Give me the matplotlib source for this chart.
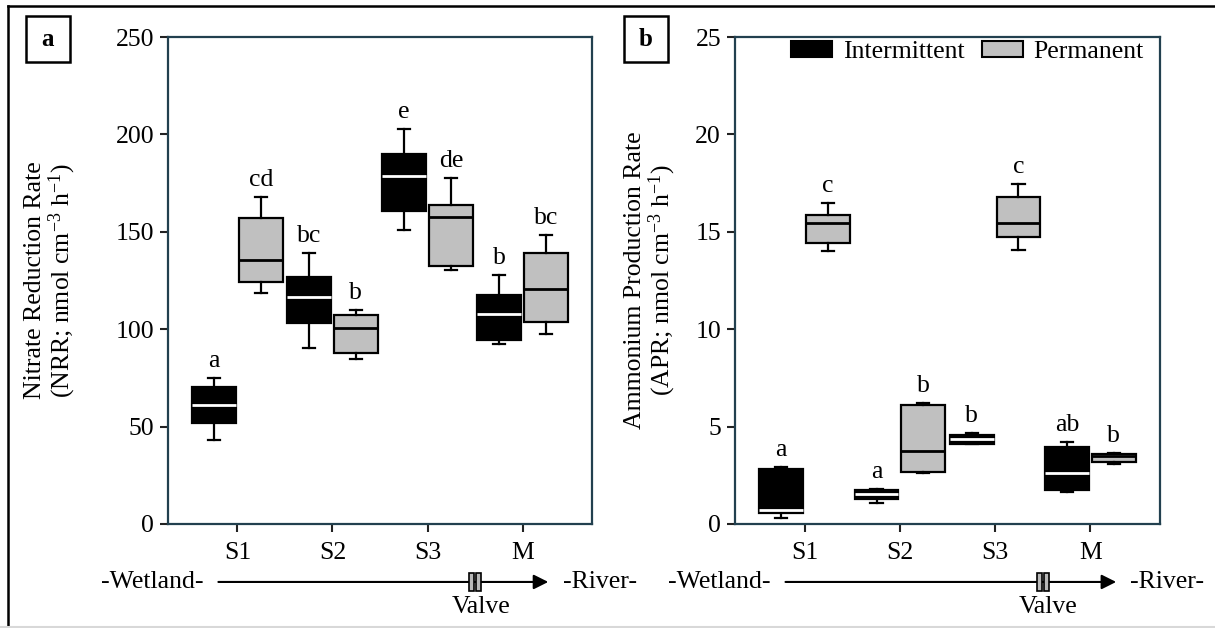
import matplotlib
matplotlib.use("Agg")
import matplotlib.pyplot as plt
import matplotlib.transforms as mtransforms
from matplotlib.patches import Patch, Rectangle
from matplotlib.lines import Line2D

plt.rcParams['font.family'] = ['Liberation Serif', 'DejaVu Serif']
plt.rcParams['mathtext.fontset'] = 'custom'
plt.rcParams['mathtext.rm'] = 'Liberation Serif'
plt.rcParams['mathtext.it'] = 'Liberation Serif:italic'
plt.rcParams['font.size'] = 18.5

sites = ['S1', 'S2', 'S3', 'M']

# [whisker low, Q1, median, Q3, whisker high] per site
nrr_intermittent = [[43.1, 52.0, 61.2, 70.5, 75.1],
                    [90.2, 103.0, 116.7, 127.0, 139.3],
                    [150.9, 160.7, 178.8, 189.8, 202.8],
                    [92.4, 94.5, 107.6, 117.6, 127.8]]
nrr_permanent = [[118.7, 124.4, 135.5, 156.9, 167.7],
                 [84.5, 87.6, 100.4, 107.3, 109.7],
                 [130.4, 132.6, 157.8, 163.8, 177.5],
                 [97.4, 103.5, 120.5, 139.3, 148.2]]
nrr_letters_int = ['a', 'bc', 'e', 'b']
nrr_letters_perm = ['cd', 'b', 'de', 'bc']

apr_intermittent = [[0.29, 0.55, 0.72, 2.82, 2.94],
                    [1.07, 1.30, 1.54, 1.75, 1.81],
                    [4.10, 4.12, 4.38, 4.58, 4.68],
                    [1.65, 1.75, 2.63, 3.95, 4.22]]
apr_permanent = [[13.99, 14.44, 15.43, 15.84, 16.46],
                 [2.63, 2.67, 3.77, 6.11, 6.21],
                 [14.09, 14.71, 15.43, 16.77, 17.45],
                 [3.09, 3.19, 3.50, 3.60, 3.66]]
apr_letters_int = ['a', 'a', 'b', 'ab']
apr_letters_perm = ['c', 'b', 'c', 'b']

spine_col = '#22404f'
gray = '#c0c0c0'


def to_stats(rows):
    return [dict(whislo=r[0], q1=r[1], med=r[2], q3=r[3], whishi=r[4], fliers=[]) for r in rows]


def draw_panel(ax, inter, perm, let_i, let_p, ymax, ystep, ylabel, label_x):
    x = list(range(len(sites)))
    for rows, letters, off, face, medc in [(inter, let_i, -0.245, 'black', 'white'),
                                           (perm, let_p, 0.245, gray, 'black')]:
        pos = [i + off for i in x]
        ax.bxp(to_stats(rows), positions=pos, widths=0.46, patch_artist=True,
               showfliers=False, capwidths=0.13,
               boxprops=dict(facecolor=face, edgecolor='black', linewidth=1.6),
               medianprops=dict(color=medc, linewidth=2),
               whiskerprops=dict(color='black', linewidth=1.6),
               capprops=dict(color='black', linewidth=1.6))
        for p, r, t in zip(pos, rows, letters):
            ax.annotate(t, (p, r[4]), xytext=(0, 8), textcoords='offset points',
                        ha='center', va='baseline')

    ax.set_xlim(-0.73, 3.73)
    ax.set_ylim(0, ymax)
    ax.set_yticks([i * ystep for i in range(6)])
    ax.set_xticks(x)
    ax.set_xticklabels(sites)
    ax.tick_params(axis='both', direction='out', length=6, width=1.5, color='#222222')
    ax.tick_params(axis='y', pad=4)
    ax.tick_params(axis='x', pad=7)
    for s in ax.spines.values():
        s.set_color(spine_col)
        s.set_linewidth(1.6)
    ax.set_ylabel(ylabel, linespacing=1.05)
    ax.yaxis.set_label_coords(label_x, 0.5)

    # flow direction annotation below the axis
    trans = mtransforms.blended_transform_factory(ax.transData, ax.transAxes)
    ya = -0.119
    ax.annotate('', xy=(3.27, ya), xytext=(-0.2, ya), xycoords=trans, textcoords=trans,
                arrowprops=dict(arrowstyle='-|>', color='black', lw=1.5, mutation_scale=22,
                                shrinkA=0, shrinkB=0), annotation_clip=False)
    for dx in (-0.038, 0.038):
        ax.add_patch(Rectangle((2.5 + dx - 0.027, ya - 0.018), 0.054, 0.036, transform=trans,
                               facecolor='#b8b8b8', edgecolor='black', lw=1.2,
                               clip_on=False, zorder=5))
    ax.text(-0.9, ya, '-Wetland-', transform=trans, ha='center', va='center')
    ax.text(3.42, ya, '-River-', transform=trans, ha='left', va='center')
    ax.text(2.56, -0.171, 'Valve', transform=trans, ha='center', va='center')


fig = plt.figure(figsize=(12.15, 6.28), dpi=100)
ax1 = fig.add_axes([168 / 1215, 104 / 628, 424 / 1215, 487 / 628])
ax2 = fig.add_axes([735 / 1215, 104 / 628, 425 / 1215, 487 / 628])

draw_panel(ax1, nrr_intermittent, nrr_permanent, nrr_letters_int, nrr_letters_perm,
           250, 50, 'Nitrate Reduction Rate\n(NRR; nmol cm$^{-3}$ h$^{-1}$)', -0.212)
draw_panel(ax2, apr_intermittent, apr_permanent, apr_letters_int, apr_letters_perm,
           25, 5, 'Ammonium Production Rate\n(APR; nmol cm$^{-3}$ h$^{-1}$)', -0.134)

handles = [Patch(facecolor='black', edgecolor='black', lw=1.5),
           Patch(facecolor=gray, edgecolor='black', lw=1.5)]
ax2.legend(handles, ['Intermittent', 'Permanent'], loc='upper right', ncol=2,
           frameon=False, bbox_to_anchor=(1 - 16 / 425, 1 - 4 / 487), borderaxespad=0,
           borderpad=0, handlelength=1.6, handleheight=0.6, handletextpad=0.4,
           columnspacing=0.7)

# panel letters in boxes
for px, t in [(26, 'a'), (624, 'b')]:
    fig.add_artist(Rectangle((px / 1215, 1 - 62 / 628), 44 / 1215, 46 / 628,
                             transform=fig.transFigure, fill=False, edgecolor='black', lw=1.8))
    fig.text((px + 22) / 1215, 1 - 39 / 628, t, ha='center', va='center',
             fontweight='bold', fontsize=18)

# outer frame lines
fig.add_artist(Line2D([8 / 1215, 1], [1 - 6 / 628, 1 - 6 / 628], transform=fig.transFigure,
                      color='black', lw=1.8))
fig.add_artist(Line2D([8 / 1215, 8 / 1215], [0, 1 - 6 / 628], transform=fig.transFigure,
                      color='black', lw=1.8))
fig.add_artist(Line2D([0, 1], [1.5 / 628, 1.5 / 628], transform=fig.transFigure,
                      color='#d8d8d8', lw=1.5))

fig.savefig('out.png', dpi=100)
